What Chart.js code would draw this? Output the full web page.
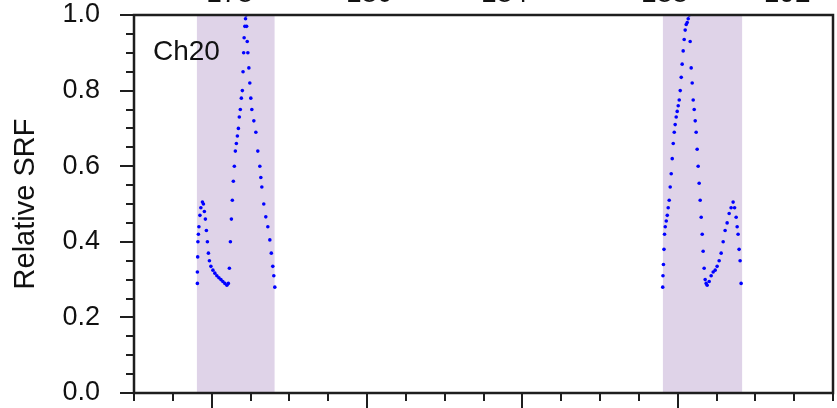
<!DOCTYPE html>
<html>
<head>
<meta charset="utf-8">
<script src="https://cdn.jsdelivr.net/npm/chart.js@4.4.0/dist/chart.umd.min.js"></script>
<style>
html, body { margin: 0; padding: 0; background: #fff; }
#wrap { width: 837px; height: 408px; overflow: hidden; }
</style>
</head>
<body>
<div id="wrap"><canvas id="srfChart" width="837" height="408"></canvas></div>
<script>
const CHANNEL_NAME = "Ch20";
const AXIS_TITLE = "Relative SRF";
const POINT_COLOR = "#0000ff";
const BAND_COLOR = "#dfd3e8";
const FRAME_COLOR = "#1e1e1e";
const FONT_FAMILY = "'Liberation Sans', Arial, Helvetica, sans-serif";

const xMin = 177;
const xMax = 186;
const xTicksMajor = [178, 180, 182, 184];
const bandStarts = [177.81, 183.81];
const bandEnds = [178.81, 184.83];

// labels of the panel above, only their lower edge shows
const topLabelPos = [178.23, 180.03, 181.77, 183.83, 185.41];
const topLabels = ["178", "180", "184", "188", "192"];

// left band
const leftX = [
    177.816, 177.816, 177.820, 177.823, 177.829, 177.836, 177.849, 177.861,
    177.881, 177.894, 177.906, 177.919, 177.932, 177.945, 177.958, 177.971,
    177.990, 178.016, 178.041, 178.067, 178.093, 178.119, 178.144, 178.170,
    178.196, 178.215, 178.228, 178.241, 178.254, 178.266, 178.279, 178.292,
    178.305, 178.318, 178.331, 178.344, 178.356, 178.369, 178.382, 178.395,
    178.404, 178.412, 178.418, 178.427, 178.436, 178.443, 178.450, 178.458,
    178.466, 178.479, 178.491, 178.504, 178.517, 178.543, 178.569, 178.594,
    178.620, 178.633, 178.646, 178.671, 178.697, 178.723, 178.749, 178.768,
    178.787, 178.800, 178.813
];
const leftY = [
    0.29, 0.32, 0.36, 0.40, 0.42, 0.44, 0.47, 0.49,
    0.505, 0.50, 0.48, 0.46, 0.43, 0.40, 0.37, 0.35,
    0.335, 0.325, 0.317, 0.31, 0.305, 0.30, 0.295, 0.29,
    0.285, 0.29, 0.33, 0.40, 0.46, 0.51, 0.56, 0.60,
    0.64, 0.66, 0.68, 0.70, 0.73, 0.75, 0.78, 0.80,
    0.85, 0.90, 0.94, 0.97, 0.99, 1.00, 0.97, 0.93,
    0.90, 0.86, 0.82, 0.78, 0.75, 0.72, 0.69, 0.64,
    0.60, 0.57, 0.545, 0.50, 0.466, 0.44, 0.405, 0.37,
    0.335, 0.31, 0.28
];

// right band
const rightX = [
    183.808, 183.811, 183.817, 183.824, 183.831, 183.840, 183.853, 183.866,
    183.878, 183.891, 183.904, 183.917, 183.930, 183.943, 183.956, 183.968,
    183.981, 183.994, 184.007, 184.020, 184.033, 184.046, 184.058, 184.071,
    184.084, 184.097, 184.110, 184.123, 184.136, 184.148, 184.161, 184.174,
    184.187, 184.200, 184.213, 184.226, 184.238, 184.251, 184.264, 184.277,
    184.290, 184.303, 184.316, 184.328, 184.341, 184.354, 184.367, 184.380,
    184.406, 184.431, 184.457, 184.483, 184.508, 184.534, 184.560, 184.586,
    184.611, 184.637, 184.663, 184.688, 184.714, 184.733, 184.753, 184.766,
    184.778, 184.791, 184.804, 184.817
];
const rightY = [
    0.28, 0.31, 0.34, 0.38, 0.42, 0.44, 0.455, 0.47,
    0.49, 0.51, 0.545, 0.58, 0.62, 0.66, 0.69, 0.71,
    0.73, 0.745, 0.76, 0.775, 0.80, 0.835, 0.87, 0.905,
    0.935, 0.96, 0.975, 0.98, 0.99, 1.00, 0.93, 0.86,
    0.82, 0.775, 0.75, 0.72, 0.69, 0.645, 0.60, 0.555,
    0.51, 0.465, 0.42, 0.375, 0.33, 0.30, 0.29, 0.285,
    0.295, 0.31, 0.32, 0.325, 0.335, 0.35, 0.37, 0.40,
    0.43, 0.45, 0.475, 0.49, 0.505, 0.49, 0.465, 0.44,
    0.42, 0.38, 0.35, 0.29
];

function toPoints(xs, ys) {
    return xs.map((x, i) => ({ x: x, y: ys[i] }));
}

function isMajorY(v) {
    return Math.abs(v * 5 - Math.round(v * 5)) < 1e-6;
}

const panelPlugin = {
    id: "panelPlugin",
    beforeDatasetsDraw(chart) {
        const ctx = chart.ctx;
        const area = chart.chartArea;
        const xs = chart.scales.x;
        ctx.save();
        ctx.fillStyle = BAND_COLOR;
        for (let i = 0; i < bandStarts.length; i++) {
            let x0 = xs.getPixelForValue(bandStarts[i]);
            let x1 = xs.getPixelForValue(bandEnds[i]);
            ctx.fillRect(x0, area.top, x1 - x0, area.bottom - area.top);
        }
        ctx.restore();
    },
    afterDraw(chart) {
        const ctx = chart.ctx;
        const area = chart.chartArea;
        const xs = chart.scales.x;
        const ys = chart.scales.y;
        ctx.save();
        ctx.strokeStyle = FRAME_COLOR;
        ctx.lineWidth = 2;

        // y ticks, outward
        ys.ticks.forEach((t) => {
            let py = Math.round(ys.getPixelForValue(t.value));
            let len = isMajorY(t.value) ? 14 : 8;
            ctx.beginPath();
            ctx.moveTo(area.left - len, py);
            ctx.lineTo(area.left, py);
            ctx.stroke();
        });

        // x ticks, outward
        xs.ticks.forEach((t) => {
            let px = Math.round(xs.getPixelForValue(t.value));
            let len = xTicksMajor.includes(t.value) ? 16 : 8;
            ctx.beginPath();
            ctx.moveTo(px, area.bottom);
            ctx.lineTo(px, area.bottom + len);
            ctx.stroke();
        });

        // frame
        ctx.lineWidth = 2.5;
        ctx.strokeRect(area.left, area.top, area.right - area.left, area.bottom - area.top);

        // channel label
        ctx.fillStyle = "#111";
        ctx.font = "28px " + FONT_FAMILY;
        ctx.textAlign = "left";
        ctx.textBaseline = "alphabetic";
        ctx.fillText(CHANNEL_NAME, area.left + 19, area.top + 45);
        ctx.restore();
    }
};

const config = {
    type: "scatter",
    data: {
        datasets: [
            {
                label: CHANNEL_NAME + " band 1",
                data: toPoints(leftX, leftY),
                backgroundColor: POINT_COLOR,
                borderWidth: 0,
                pointRadius: 1.8,
            },
            {
                label: CHANNEL_NAME + " band 2",
                data: toPoints(rightX, rightY),
                backgroundColor: POINT_COLOR,
                borderWidth: 0,
                pointRadius: 1.8,
            },
        ],
    },
    options: {
        responsive: false,
        animation: false,
        devicePixelRatio: 1,
        layout: { padding: { left: 0, right: 3, top: 0, bottom: 0 } },
        plugins: {
            legend: { display: false },
            tooltip: { enabled: false },
        },
        scales: {
            x: {
                type: "linear",
                position: "bottom",
                min: xMin,
                max: xMax,
                grid: { display: false, drawTicks: false },
                border: { display: false },
                ticks: { display: false, stepSize: 0.5, autoSkip: false },
                afterFit: (s) => { s.height = 15; },
            },
            x2: {
                type: "linear",
                position: "top",
                display: true,
                min: xMin,
                max: xMax,
                grid: { display: false, drawTicks: true, tickLength: 7 },
                border: { display: false },
                ticks: {
                    autoSkip: false,
                    maxRotation: 0,
                    padding: 0,
                    color: "#111",
                    font: { size: 28, family: FONT_FAMILY, lineHeight: 1 },
                    callback: (v, i) => topLabels[i],
                },
                afterBuildTicks: (s) => {
                    s.ticks = topLabelPos.map((v) => ({ value: v }));
                },
                afterFit: (s) => { s.height = 15; },
            },
            y: {
                min: 0,
                max: 1,
                grid: { display: false, drawTicks: true, tickLength: 34 },
                border: { display: false },
                ticks: {
                    stepSize: 0.05,
                    autoSkip: false,
                    padding: 0,
                    color: "#111",
                    font: { size: 27, family: FONT_FAMILY, lineHeight: 1 },
                    callback: (v) => (isMajorY(v) ? v.toFixed(1) : ""),
                },
                title: {
                    display: true,
                    text: AXIS_TITLE,
                    color: "#111",
                    font: { size: 29, family: FONT_FAMILY },
                    padding: { top: 9, bottom: 0 },
                },
                afterFit: (s) => { s.width = 134; },
            },
        },
    },
    plugins: [panelPlugin],
};

new Chart(document.getElementById("srfChart").getContext("2d"), config);
</script>
</body>
</html>
